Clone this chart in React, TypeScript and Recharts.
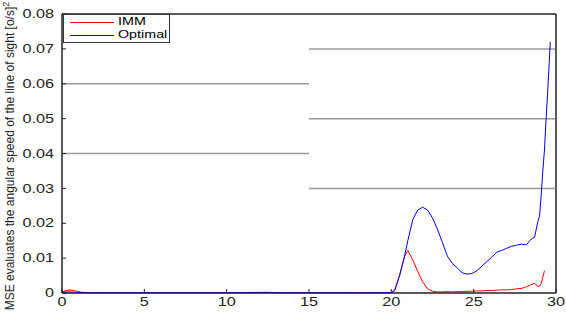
import { LineChart, Line, XAxis, YAxis, ReferenceLine, ReferenceArea } from 'recharts';

// time axis (s)
const t = [0, 0.3, 0.5, 0.8, 1.2, 2, 5, 10, 12.5, 13, 15, 18, 20, 20.2, 20.5, 20.8, 21.0, 21.3, 21.6, 21.9, 22.2, 22.5, 22.8, 23.1, 23.4, 23.7, 24.0, 24.3, 24.6, 24.9, 25.2, 25.5, 25.8, 26.1, 26.4, 26.7, 27.0, 27.3, 27.6, 27.9, 28.2, 28.5, 28.7, 28.9, 29.0, 29.1, 29.2, 29.3, 29.4, 29.5, 29.6, 29.65];

const imm = [0.0003, 0.0007, 0.0009, 0.0006, 0.0002, 0.0001, 0.0001, 0.0001, 0.0001, 0.0001, 0.0001, 0.0001, 0.0001, 0.0006, 0.005, 0.0105, 0.0122, 0.0095, 0.0062, 0.0032, 0.0012, 0.0005, 0.0003, 0.0003, 0.0004, 0.0003, 0.0004, 0.0004, 0.0005, 0.0005, 0.0006, 0.0006, 0.0007, 0.0007, 0.0008, 0.0009, 0.0009, 0.0010, 0.0012, 0.0013, 0.0018, 0.0024, 0.0028, 0.0018, 0.0020, 0.0028, 0.0045, 0.0064, null, null, null, null];

const optimal = [0.0002, 0.0003, 0.0003, 0.0002, 0.0001, 0.0001, 0.0001, 0.0001, 0.0002, 0.0001, 0.0001, 0.0001, 0.0001, 0.0008, 0.005, 0.0105, 0.015, 0.021, 0.0238, 0.0246, 0.0238, 0.0215, 0.0183, 0.0145, 0.0106, 0.0085, 0.0072, 0.0058, 0.0054, 0.0056, 0.0064, 0.0077, 0.009, 0.0103, 0.0117, 0.0122, 0.0128, 0.0134, 0.0137, 0.014, 0.0138, 0.0155, 0.016, 0.0205, 0.022, 0.028, 0.035, 0.041, 0.05, 0.058, 0.067, 0.072];

const xTicks = [0, 5, 10, 15, 20, 25, 30];
const yTicks = [0, 0.01, 0.02, 0.03, 0.04, 0.05, 0.06, 0.07, 0.08];

// grey horizontal segments: left half and right half
const leftGrey = [0.06, 0.04];
const rightGrey = [0.07, 0.05, 0.03];

const data = t.map((x, i) => ({ t: x, imm: imm[i], optimal: optimal[i] }));

const font = 'Liberation Sans, Arial, sans-serif';

const XTick = (props: any) => {
    const { x, y, payload } = props;
    return (
        <text transform={`translate(${x},${y}) scale(1.35,1)`} textAnchor="middle" dy="0.71em" fontSize={12} fontFamily={font} fill="#222">
            {payload.value}
        </text>
    );
};

const YTick = (props: any) => {
    const { x, y, payload } = props;
    const v = payload.value === 0 ? '0' : payload.value.toFixed(2);
    return (
        <text transform={`translate(${x},${y}) scale(1.35,1)`} textAnchor="end" dy="0.35em" fontSize={12} fontFamily={font} fill="#222">
            {v}
        </text>
    );
};

export default function App() {
    return (
        <div style={{ position: 'relative', width: 566, height: 312, background: '#fff' }}>
            <style>{'body{margin:0}'}</style>
            <LineChart width={566} height={312} data={data} margin={{ top: 13, right: 9, bottom: 0, left: 12 }}>
                <XAxis
                    dataKey="t"
                    type="number"
                    domain={[0, 30]}
                    ticks={xTicks}
                    tickSize={-4}
                    tickMargin={8}
                    height={19}
                    stroke="#222"
                    tick={<XTick />}
                />
                <XAxis xAxisId="top" orientation="top" type="number" domain={[0, 30]} ticks={xTicks} tickSize={-4} height={1} stroke="#222" tick={false} />
                <YAxis
                    type="number"
                    domain={[0, 0.08]}
                    ticks={yTicks}
                    tickSize={-4}
                    tickMargin={12}
                    width={50}
                    stroke="#222"
                    tick={<YTick />}
                />
                <YAxis yAxisId="right" orientation="right" type="number" domain={[0, 0.08]} ticks={yTicks} tickSize={-4} width={1} stroke="#222" tick={false} />
                <ReferenceArea x1={0} x2={30} y1={0} y2={0.08} fill="none" stroke="#222" strokeWidth={1} />
                {leftGrey.map((v) => (
                    <ReferenceLine key={'l' + v} segment={[{ x: 0, y: v }, { x: 15, y: v }]} stroke="#9a9a9a" strokeWidth={1.5} />
                ))}
                {rightGrey.map((v) => (
                    <ReferenceLine key={'r' + v} segment={[{ x: 15, y: v }, { x: 30, y: v }]} stroke="#9a9a9a" strokeWidth={1.5} />
                ))}
                <Line type="linear" dataKey="imm" stroke="red" strokeWidth={1} dot={false} isAnimationActive={false} connectNulls={false} />
                <Line type="linear" dataKey="optimal" stroke="#0000ee" strokeWidth={1} dot={false} isAnimationActive={false} />
                <text transform="translate(14,156) rotate(-90)" textAnchor="middle" fontSize={12} fontFamily={font} fill="#222">
                    MSE evaluates the angular speed of the line of sight [o/s]
                    <tspan dy={-5} fontSize={9}>2</tspan>
                </text>
            </LineChart>
            {/* legend box */}
            <div style={{ position: 'absolute', left: 63, top: 14, width: 107, height: 29, border: '1px solid #333', background: '#fff', boxSizing: 'border-box', fontFamily: font, fontSize: 11 }}>
                <div style={{ position: 'absolute', left: 6, top: 7, width: 44, borderTop: '1px solid red' }} />
                <div style={{ position: 'absolute', left: 54, top: 0, transform: 'scale(1.3,1)', transformOrigin: 'left' }}>IMM</div>
                <div style={{ position: 'absolute', left: 6, top: 20, width: 44, borderTop: '1px solid #0000ee' }} />
                <div style={{ position: 'absolute', left: 54, top: 13, transform: 'scale(1.3,1)', transformOrigin: 'left' }}>Optimal</div>
            </div>
        </div>
    );
}
